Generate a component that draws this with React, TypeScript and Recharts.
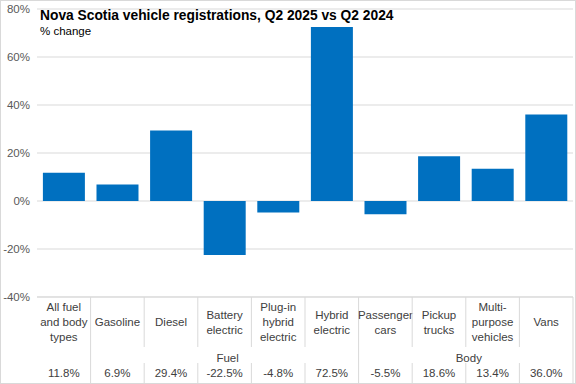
import React from "react";
import { BarChart, Bar, XAxis, YAxis, CartesianGrid } from "recharts";

const categories = [
  "All fuel\nand body\ntypes",
  "Gasoline",
  "Diesel",
  "Battery\nelectric",
  "Plug-in\nhybrid\nelectric",
  "Hybrid\nelectric",
  "Passenger\ncars",
  "Pickup\ntrucks",
  "Multi-\npurpose\nvehicles",
  "Vans",
];
const values = [11.8, 6.9, 29.4, -22.5, -4.8, 72.5, -5.5, 18.6, 13.4, 36.0];
const groups = [
  { label: "Fuel", start: 1, end: 5 },
  { label: "Body", start: 6, end: 9 },
];
const yTicks = [-40, -20, 0, 20, 40, 60, 80];

const data = categories.map((c, i) => ({ name: c, value: values[i] }));

const W = 576;
const H = 384;
const LEFT = 37;
const RIGHT = 3;
const BAND = (W - LEFT - RIGHT) / categories.length;
const FONT = "'Liberation Sans', Arial, sans-serif";
const GRID = "#d9d9d9";
const TXT = "#404040";

function CatTick(props: any) {
  const { x, y, payload } = props;
  const i: number = payload.index;
  const lines = categories[i].split("\n");
  const lh = 15;
  const cy = y + 25;
  const startY = cy - ((lines.length - 1) * lh) / 2;
  const xr = x + BAND / 2;
  const full = i === 0 || groups.some((g) => g.end === i);
  const g = groups.find((gr) => gr.start === i);
  return (
    <g>
      {lines.map((ln, k) => (
        <text
          key={k}
          x={x}
          y={startY + k * lh}
          dy="0.35em"
          textAnchor="middle"
          fontSize={11.5}
          fontFamily={FONT}
          fill={TXT}
        >
          {ln}
        </text>
      ))}
      {g && (
        <text
          x={x + ((g.start + g.end) / 2 - i) * BAND + 3}
          y={y + 61}
          dy="0.35em"
          textAnchor="middle"
          fontSize={11.5}
          fontFamily={FONT}
          fill={TXT}
        >
          {g.label}
        </text>
      )}
      <text
        x={x}
        y={y + 76}
        dy="0.35em"
        textAnchor="middle"
        fontSize={11.5}
        fontFamily={FONT}
        fill={TXT}
      >
        {values[i].toFixed(1) + "%"}
      </text>
      {full ? (
        <line x1={xr} x2={xr} y1={y} y2={y + 87} stroke={GRID} />
      ) : (
        <>
          <line x1={xr} x2={xr} y1={y} y2={y + 50} stroke={GRID} />
          <line x1={xr} x2={xr} y1={y + 66} y2={y + 87} stroke={GRID} />
        </>
      )}
    </g>
  );
}

export default function App() {
  return (
    <div
      style={{
        position: "absolute",
        left: 0,
        top: 0,
        width: W,
        height: H,
        background: "#fff",
        fontFamily: FONT,
      }}
    >
      <BarChart
        width={W}
        height={H}
        data={data}
        margin={{ top: 9, right: RIGHT, bottom: 0, left: 0 }}
        barCategoryGap="11%"
      >
        <CartesianGrid vertical={false} stroke={GRID} />
        <YAxis
          width={LEFT}
          domain={[-40, 80]}
          ticks={yTicks}
          interval={0}
          axisLine={false}
          tickLine={false}
          tickSize={0}
          tickMargin={7}
          tickFormatter={(v: number) => `${v}%`}
          tick={{ fontSize: 11.5, fill: "#595959", fontFamily: FONT }}
        />
        <XAxis
          dataKey="name"
          height={87}
          interval={0}
          axisLine={{ stroke: GRID }}
          tickLine={false}
          tickSize={0}
          tickMargin={0}
          tick={<CatTick />}
        />
        <Bar dataKey="value" fill="#0070C0" isAnimationActive={false} />
      </BarChart>
      <div
        style={{
          position: "absolute",
          left: 40,
          top: 8,
          fontSize: 13.8,
          fontWeight: "bold",
          color: "#000",
          whiteSpace: "nowrap",
        }}
      >
        Nova Scotia vehicle registrations, Q2 2025 vs Q2 2024
      </div>
      <div
        style={{
          position: "absolute",
          left: 40,
          top: 25,
          fontSize: 11.5,
          color: "#000",
          whiteSpace: "nowrap",
        }}
      >
        % change
      </div>
      <div
        style={{
          position: "absolute",
          left: 0,
          top: 0,
          width: W,
          height: H,
          boxSizing: "border-box",
          border: `1px solid ${GRID}`,
          pointerEvents: "none",
        }}
      />
    </div>
  );
}
